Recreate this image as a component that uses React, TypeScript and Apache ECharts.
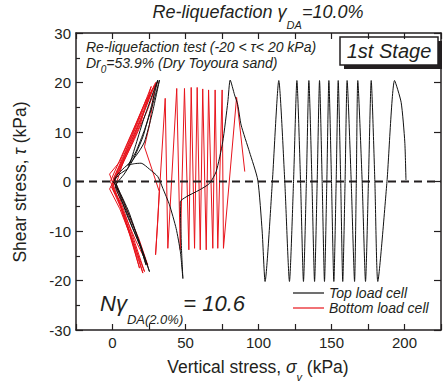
import React, { useEffect, useRef } from 'react';
import * as echarts from 'echarts';

// x: vertical stress σv (kPa), y: shear stress τ (kPa)
const xLabelValues = [0, 50, 100, 150, 200];
const X_MIN = -25;
const X_MAX = 225;
const X_STEP = 25;
const Y_MIN = -30;
const Y_MAX = 30;
const Y_STEP = 10;

const topLoadCell: [number, number][] = [
  [0, 0], [2.5, -0.7], [9.4, -6.4], [16.2, -11.1], [21.9, -15.2], [25.3, -18.2],
  [20, -13.5], [13, -8], [6, -3], [1, 0],
  [5, 1.5], [10.5, 2.7], [15.5, 7], [20.8, 12.1], [26, 16.5], [31, 20.5],
  [26.5, 15.1], [20.8, 9], [13.9, 4.3], [8, 1.5], [2, -1],
  [8, -5], [14, -9.5], [19.5, -13.5], [23, -16.9],
  [18, -12], [11, -6], [4, -1.5], [1.5, 0.5],
  [7, 2.5], [12.8, 4], [18, 6], [21.9, 8], [27, 13.5], [32.2, 20.5],
  [27.5, 15.5], [22, 10.5], [16, 6], [10.5, 3.3],
  [15, 3.6], [19.6, 3.7], [25.3, 2.5], [31, 1.0], [34.5, -1.4], [39, -4.7],
  [43.6, -9.5], [46.5, -14.2], [48.2, -19.6],
  [47.3, -14], [46.8, -9], [46.4, -4.1],
  [50.5, -3.1], [59.6, -1.7], [66.4, -0.4], [71, 2], [75.5, 8], [79, 16.1], [80.6, 20.5],
  [83.6, 17.5], [85.8, 15.5], [88.1, 11.4], [93.8, 6], [99.5, 0.3], [102.5, -10], [104.5, -20.2],
  [109.5, 0], [113.9, 20.4], [118, 0], [121.2, -20.2], [124, 0], [126.3, 20.4],
  [128.8, 0], [130.8, -20.2], [132.8, 0], [134.5, 20.4], [136.6, 0], [138.4, -20.2],
  [140.2, 0], [141.8, 20.4], [143.6, 0], [145.2, -20.2], [146.8, 0], [148.2, 20.4],
  [150, 0], [151.6, -20.2], [153.2, 0], [154.6, 20.4], [156.3, 0], [157.7, -20.2],
  [159.3, 0], [160.7, 20.4], [163.5, 0], [165.8, -20.2], [167, 0], [168.0, 20.4],
  [171, 0], [173.3, -20.2], [175.3, 0], [177.2, 20.4], [179.7, 0], [181.7, -20.2],
  [188, 0], [193.2, 20.4], [197.7, 16], [200.2, 8], [201, 0.3],
];

const bottomLoadCell: [number, number][] = [
  [0, 0], [7, 4.5], [14, 9.5], [21, 14.5], [27.6, 18.8],
  [20, 13], [12, 7.5], [4, 2], [-1, -1],
  [4, -3.5], [10, -8.5], [16, -13.5], [20.8, -18.5],
  [14, -12.5], [7, -6.5], [1, -1], [-2, 1.5],
  [5, 4], [13, 9.5], [21, 15], [28.8, 19.5],
  [21, 13.5], [12, 7], [4, 2.5], [0, -1.5],
  [6, -5.5], [12, -11], [18.5, -17.5],
  [12, -10.5], [5, -4], [-1.5, 0],
  [6, 5], [15, 11], [23, 16.5], [31, 20.2],
  [24, 14.5], [15, 8.5], [6, 3], [-2, -1.5],
  [5, -5.5], [13, -11.5], [21.9, -18.2],
  [15.5, -12.5], [8, -6], [0.5, 0.5],
  [8, 5.5], [17, 12], [26.5, 19.2],
  [19, 11.5], [10, 5.5], [2, 0.5], [0, -1],
  [8, -6.5], [16, -12], [24.2, -16.9],
  [18, -11.5], [10, -6], [2.5, -0.5],
  [9, 5.5], [19, 12.5], [29.5, 20],
  [25.3, 11.4], [21.9, 7], [27, 2.5], [32, -2], [31, -8], [29.5, -14.8],
  [36.1, 16.8], [37.9, -13.5], [44.0, 18.8], [46.4, -13.8], [49.3, 18.8], [52.3, -13.8],
  [53.9, 19], [56.2, -13.5], [58.0, 19], [60.1, -13.8], [61.8, 18.7], [64.2, -13.8],
  [65.8, 18.5], [68.7, -13.5], [70.3, 18.5], [72.1, -13.5], [75.1, 18.5], [76.0, -13.5],
  [85.0, 17.0], [88, 9], [90.6, 2],
];

const zeroLine: [number, number][] = [[X_MIN, 0], [X_MAX, 0]];

const FONT = "'Liberation Sans', Arial, Helvetica, sans-serif";
const INK = '#231f20';
const RED = '#e8141c';

export default function App() {
  const ref = useRef<HTMLDivElement>(null);

  useEffect(() => {
    if (!ref.current) return;
    document.body.style.margin = '0';
    const chart = echarts.init(ref.current, undefined, { renderer: 'svg' });

    const axisLine = { show: true, onZero: false, lineStyle: { color: INK, width: 1.5 } };

    chart.setOption({
      animation: false,
      backgroundColor: '#ffffff',
      grid: { left: 76, right: 1.5, top: 33, bottom: 55, containLabel: false },
      xAxis: [
        {
          type: 'value', min: X_MIN, max: X_MAX, interval: X_STEP, position: 'bottom',
          axisLine,
          axisTick: { show: true, inside: true, length: 6, lineStyle: { color: INK, width: 1.2 } },
          axisLabel: {
            formatter: (v: number) => (xLabelValues.includes(v) ? String(v) : ''),
            fontSize: 15, color: INK, fontFamily: FONT, margin: 5,
          },
          splitLine: { show: false },
        },
        {
          type: 'value', min: X_MIN, max: X_MAX, interval: X_STEP, position: 'top',
          axisLine,
          axisTick: { show: true, inside: true, length: 6, lineStyle: { color: INK, width: 1.2 } },
          axisLabel: { show: false },
          splitLine: { show: false },
        },
      ],
      yAxis: [
        {
          type: 'value', min: Y_MIN, max: Y_MAX, interval: Y_STEP, position: 'left',
          axisLine,
          axisTick: { show: true, inside: true, length: 7, lineStyle: { color: INK, width: 1.2 } },
          minorTick: { show: true, splitNumber: 2, length: 4, lineStyle: { color: INK, width: 1.2 } },
          axisLabel: { fontSize: 15, color: INK, fontFamily: FONT, margin: 5 },
          splitLine: { show: false },
        },
        {
          type: 'value', min: Y_MIN, max: Y_MAX, interval: Y_STEP, position: 'right',
          axisLine,
          axisTick: { show: true, inside: true, length: 7, lineStyle: { color: INK, width: 1.2 } },
          axisLabel: { show: false },
          splitLine: { show: false },
        },
      ],
      legend: {
        orient: 'vertical', left: 288, top: 281,
        icon: 'rect', itemWidth: 31, itemHeight: 1.2, itemGap: 1,
        data: ['Top load cell', 'Bottom load cell'],
        textStyle: { fontSize: 14, fontStyle: 'italic', fontFamily: FONT, color: INK },
      },
      series: [
        {
          name: 'Bottom load cell', type: 'line', data: bottomLoadCell,
          symbol: 'none', lineStyle: { color: RED, width: 1 }, itemStyle: { color: RED },
          z: 2,
        },
        {
          name: 'Top load cell', type: 'line', data: topLoadCell,
          symbol: 'none', smooth: 0.2, lineStyle: { color: '#111111', width: 1 }, itemStyle: { color: '#111111' },
          z: 3,
        },
        {
          name: 'zero', type: 'line', data: zeroLine, silent: true,
          symbol: 'none', lineStyle: { color: INK, width: 1.8, type: [8, 5] },
          z: 4,
        },
      ],
      graphic: [
        {
          type: 'text', x: 258, y: 3,
          style: {
            text: '{m|Re-liquefaction }{m|γ}{s|DA}{m|=10.0%}',
            align: 'center', verticalAlign: 'top', fill: INK,
            rich: {
              m: { fontSize: 18, fontStyle: 'italic', fontFamily: FONT, lineHeight: 22, verticalAlign: 'top', fill: INK },
              s: { fontSize: 11, fontStyle: 'italic', fontFamily: FONT, lineHeight: 12, padding: [16, 0, 0, 0], verticalAlign: 'top', fill: INK },
            },
          },
        },
        {
          type: 'text', x: 86, y: 47,
          style: {
            text: 'Re-liquefaction test (-20 < τ< 20 kPa)',
            align: 'left', verticalAlign: 'middle', fill: INK,
            fontSize: 14, fontStyle: 'italic', fontFamily: FONT,
          },
        },
        {
          type: 'text', x: 86, y: 56,
          style: {
            text: '{m|Dr}{s|0}{m|=53.9% (Dry Toyoura sand)}',
            align: 'left', verticalAlign: 'top', fill: INK,
            rich: {
              m: { fontSize: 14, fontStyle: 'italic', fontFamily: FONT, lineHeight: 16, verticalAlign: 'top', fill: INK },
              s: { fontSize: 10, fontStyle: 'italic', fontFamily: FONT, lineHeight: 10, padding: [8, 0, 0, 0], verticalAlign: 'top', fill: INK },
            },
          },
        },
        {
          type: 'rect', shape: { x: 344, y: 41, width: 98, height: 28 },
          style: { fill: INK },
        },
        {
          type: 'rect', shape: { x: 340, y: 37, width: 98, height: 28 },
          style: { fill: '#ffffff', stroke: INK, lineWidth: 1.5 },
        },
        {
          type: 'text', x: 389, y: 51,
          style: {
            text: '1st Stage', align: 'center', verticalAlign: 'middle', fill: INK,
            fontSize: 20, fontStyle: 'italic', fontFamily: FONT,
          },
        },
        {
          type: 'text', x: 100, y: 292,
          style: {
            text: '{m|Nγ}{s|DA(2.0%)}{m|= 10.6}',
            align: 'left', verticalAlign: 'top', fill: INK,
            rich: {
              m: { fontSize: 22, fontStyle: 'italic', fontFamily: FONT, lineHeight: 26, verticalAlign: 'top', fill: INK },
              s: { fontSize: 13, fontStyle: 'italic', fontFamily: FONT, lineHeight: 14, padding: [21, 0, 0, 0], verticalAlign: 'top', fill: INK },
            },
          },
        },
        {
          type: 'text', x: 258, y: 358,
          style: {
            text: '{m|Vertical stress, }{i|σ}{s|v}{m| (kPa)}',
            align: 'center', verticalAlign: 'top', fill: INK,
            rich: {
              m: { fontSize: 17.5, fontFamily: FONT, lineHeight: 20, verticalAlign: 'top', fill: INK },
              i: { fontSize: 17.5, fontStyle: 'italic', fontFamily: FONT, lineHeight: 20, verticalAlign: 'top', fill: INK },
              s: { fontSize: 11, fontStyle: 'italic', fontFamily: FONT, lineHeight: 12, padding: [13, 0, 0, 0], verticalAlign: 'top', fill: INK },
            },
          },
        },
        {
          type: 'text', x: 20, y: 182, rotation: Math.PI / 2,
          style: {
            text: '{m|Shear stress, }{i|τ}{m| (kPa)}',
            align: 'center', verticalAlign: 'middle', fill: INK,
            rich: {
              m: { fontSize: 17.5, fontFamily: FONT, fill: INK },
              i: { fontSize: 17.5, fontStyle: 'italic', fontFamily: FONT, fill: INK },
            },
          },
        },
      ],
    });

    return () => {
      chart.dispose();
    };
  }, []);

  return (
    <div
      ref={ref}
      style={{ position: 'fixed', left: 0, top: 0, width: 444, height: 385, background: '#fff' }}
    />
  );
}
